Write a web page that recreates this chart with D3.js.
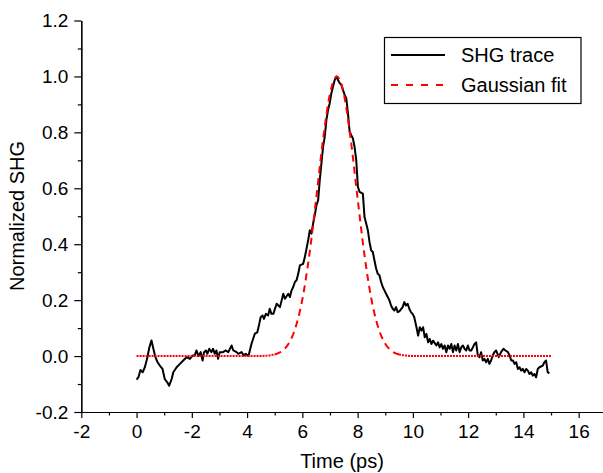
<!DOCTYPE html>
<html>
<head>
<meta charset="utf-8">
<script src="https://cdn.jsdelivr.net/npm/d3@7"></script>
<style>
  body { margin: 0; background: #fff; }
  svg { display: block; font-family: "Liberation Sans", Arial, sans-serif; }
  .axis path, .axis line { stroke: #000; stroke-width: 1.2; }
  .axis text { font-size: 19px; fill: #000; }
</style>
</head>
<body>
<div id="chart"></div>
<script>
// === data ===
const xTickValues = [-2, 0, 2, 4, 6, 8, 10, 12, 14, 16];
const xTickLabels = ["-2", "0", "-2", "4", "6", "8", "10", "12", "14", "16"]; // as printed
const yTickValues = [-0.2, 0, 0.2, 0.4, 0.6, 0.8, 1.0, 1.2];
const yTickLabels = ["-0.2", "0.0", "0.2", "0.4", "0.6", "0.8", "1.0", "1.2"];
const seriesNames = ["SHG trace", "Gaussian fit"];

// SHG trace (time in ps, normalized signal)
const traceT = [
  0.00, 0.07, 0.14, 0.22, 0.30, 0.38, 0.46, 0.54, 0.60, 0.67, 0.75, 0.84, 0.94, 1.02, 1.11, 1.18,
  1.27, 1.33, 1.45, 1.57, 1.69, 1.81, 1.93, 2.03, 2.10, 2.17, 2.24, 2.32, 2.39, 2.44, 2.51, 2.56,
  2.63, 2.71, 2.77, 2.83, 2.89, 2.95, 3.01, 3.13, 3.23, 3.32, 3.44, 3.50, 3.62, 3.68, 3.80, 3.88,
  3.95, 4.05, 4.10, 4.16, 4.22, 4.28, 4.37, 4.44, 4.49, 4.56, 4.61, 4.68, 4.76, 4.82, 4.88, 4.95,
  5.07, 5.19, 5.31, 5.37, 5.49, 5.55, 5.61, 5.67, 5.73, 5.79, 5.85, 5.91, 6.03, 6.09, 6.15, 6.21,
  6.27, 6.33, 6.39, 6.45, 6.51, 6.57, 6.63, 6.69, 6.75, 6.81, 6.87, 6.93, 6.99, 7.05, 7.11, 7.17,
  7.23, 7.29, 7.35, 7.41, 7.47, 7.53, 7.59, 7.65, 7.71, 7.77, 7.83, 7.89, 7.95, 8.01, 8.07, 8.19,
  8.25, 8.31, 8.37, 8.43, 8.49, 8.55, 8.61, 8.67, 8.73, 8.79, 8.85, 8.91, 8.97, 9.03, 9.09, 9.15,
  9.21, 9.27, 9.33, 9.39, 9.45, 9.51, 9.63, 9.69, 9.75, 9.81, 9.87, 9.93, 9.99, 10.05, 10.13, 10.19,
  10.25, 10.31, 10.37, 10.43, 10.49, 10.55, 10.61, 10.67, 10.73, 10.85, 10.91, 10.97, 11.03, 11.09, 11.15, 11.21,
  11.27, 11.33, 11.39, 11.45, 11.51, 11.57, 11.63, 11.69, 11.75, 11.81, 11.87, 11.93, 11.99, 12.05, 12.11, 12.17,
  12.23, 12.29, 12.35, 12.41, 12.47, 12.53, 12.59, 12.65, 12.71, 12.77, 12.83, 12.89, 12.95, 13.01, 13.11, 13.19,
  13.28, 13.35, 13.44, 13.50, 13.56, 13.62, 13.68, 13.74, 13.80, 13.86, 13.92, 13.98, 14.04, 14.10, 14.16, 14.22,
  14.28, 14.34, 14.40, 14.46, 14.52, 14.58, 14.70, 14.76, 14.82, 14.88, 14.94
];
const traceV = [
  -0.084, -0.075, -0.050, -0.058, -0.040, -0.010, 0.030, 0.056, 0.030, 0.000, -0.020, -0.034, -0.046, -0.082, -0.094, -0.106,
  -0.082, -0.058, -0.040, -0.028, -0.016, -0.004, -0.010, 0.002, 0.002, 0.020, 0.000, 0.014, -0.016, 0.014, 0.020, 0.008,
  0.026, 0.014, 0.026, 0.008, 0.020, -0.010, 0.014, 0.014, 0.020, 0.014, 0.038, 0.020, 0.014, 0.008, 0.014, 0.002,
  0.008, 0.000, 0.020, 0.044, 0.062, 0.080, 0.085, 0.115, 0.139, 0.145, 0.133, 0.151, 0.145, 0.169, 0.151, 0.151,
  0.187, 0.175, 0.223, 0.205, 0.223, 0.211, 0.235, 0.247, 0.265, 0.271, 0.294, 0.324, 0.330, 0.354, 0.384, 0.414,
  0.450, 0.438, 0.474, 0.504, 0.539, 0.557, 0.629, 0.689, 0.748, 0.784, 0.844, 0.880, 0.904, 0.940, 0.963, 0.987,
  1.000, 0.987, 0.976, 0.970, 0.952, 0.934, 0.922, 0.869, 0.803, 0.790, 0.778, 0.748, 0.701, 0.605, 0.587, 0.581,
  0.497, 0.474, 0.450, 0.408, 0.378, 0.372, 0.342, 0.313, 0.294, 0.289, 0.265, 0.247, 0.235, 0.223, 0.211, 0.199,
  0.181, 0.169, 0.163, 0.175, 0.157, 0.160, 0.175, 0.193, 0.181, 0.187, 0.169, 0.157, 0.151, 0.139, 0.103, 0.073,
  0.103, 0.091, 0.103, 0.067, 0.079, 0.049, 0.061, 0.043, 0.055, 0.038, 0.049, 0.031, 0.043, 0.026, 0.038, 0.014,
  0.038, 0.026, 0.043, 0.014, 0.038, 0.020, 0.043, 0.014, 0.031, 0.038, 0.026, 0.020, 0.038, 0.020, 0.020, 0.031,
  0.043, 0.049, 0.002, -0.004, 0.014, -0.016, -0.010, -0.022, -0.010, -0.028, -0.016, 0.002, 0.014, 0.020, -0.004, 0.014,
  0.026, 0.020, 0.014, 0.002, -0.016, -0.016, -0.028, -0.022, -0.046, -0.040, -0.052, -0.046, -0.058, -0.046, -0.052, -0.064,
  -0.058, -0.070, -0.064, -0.076, -0.046, -0.040, -0.034, -0.022, -0.016, -0.058, -0.062
];

// Gaussian fit
const fitT = [0.0, 2.0, 4.0, 4.5, 4.75, 5.0, 5.25, 5.5, 5.75, 6.0, 6.25, 6.5, 6.75, 7.0, 7.25,
  7.5, 7.75, 8.0, 8.25, 8.5, 8.75, 9.0, 9.25, 9.5, 9.75, 10.0, 10.5, 12.5, 15.0];
const fitV = [0.0, 0.0, 0.0, 0.0004, 0.0017, 0.0057, 0.017, 0.044, 0.101, 0.203, 0.360, 0.563, 0.775, 0.938, 1.0,
  0.938, 0.775, 0.563, 0.360, 0.203, 0.101, 0.044, 0.017, 0.0057, 0.0017, 0.0004, 0.0, 0.0, 0.0];

// === layout ===
const W = 603, H = 473;
const x = d3.scaleLinear().domain([-2, 17]).range([81.3, 606.3]);
const y = d3.scaleLinear().domain([-0.2, 1.2]).range([412, 20.5]);

const svg = d3.select("#chart").append("svg").attr("width", W).attr("height", H);

// axes (left and bottom only, ticks outward)
const xMinor = d3.range(-1, 17, 2);
const yMinor = d3.range(-0.1, 1.2, 0.2);

svg.append("g").attr("class", "axis")
  .attr("transform", `translate(0,${y(-0.2)})`)
  .call(d3.axisBottom(x).tickValues(xMinor).tickSize(3.5).tickSizeOuter(0).tickFormat(""));
svg.append("g").attr("class", "axis")
  .attr("transform", `translate(0,${y(-0.2)})`)
  .call(d3.axisBottom(x).tickValues(xTickValues).tickSize(6).tickSizeOuter(0).tickPadding(7)
    .tickFormat((d, i) => xTickLabels[i]));

svg.append("g").attr("class", "axis")
  .attr("transform", `translate(${x(-2)},0)`)
  .call(d3.axisLeft(y).tickValues(yMinor).tickSize(3.5).tickSizeOuter(0).tickFormat(""));
svg.append("g").attr("class", "axis")
  .attr("transform", `translate(${x(-2)},0)`)
  .call(d3.axisLeft(y).tickValues(yTickValues).tickSize(7).tickSizeOuter(0).tickPadding(6)
    .tickFormat((d, i) => yTickLabels[i]));

// axis titles
svg.append("text")
  .attr("x", 342).attr("y", 468)
  .attr("text-anchor", "middle").attr("font-size", 20)
  .text("Time (ps)");
svg.append("text")
  .attr("transform", `translate(24,216) rotate(-90)`)
  .attr("text-anchor", "middle").attr("font-size", 20)
  .text("Normalized SHG");

// curves
const trace = traceT.map((t, i) => [t, traceV[i]]);
const fit = fitT.map((t, i) => [t, fitV[i]]);

const line = d3.line().x(d => x(d[0])).y(d => y(d[1]));
const smooth = d3.line().x(d => x(d[0])).y(d => y(d[1])).curve(d3.curveMonotoneX);

// flat parts of the fit look dotted, the steep part dashed
const fitLeft = fit.filter(d => d[0] <= 5.0);
const fitMid = fit.filter(d => d[0] >= 5.0 && d[0] <= 9.5);
const fitRight = fit.filter(d => d[0] >= 9.5);

svg.append("path").datum(trace)
  .attr("fill", "none").attr("stroke", "#000").attr("stroke-width", 2)
  .attr("stroke-linejoin", "round")
  .attr("d", line);

[fitLeft, fitRight].forEach(seg => {
  svg.append("path").datum(seg)
    .attr("fill", "none").attr("stroke", "#ff0000").attr("stroke-width", 2)
    .attr("stroke-dasharray", "2,1")
    .attr("d", smooth);
});
svg.append("path").datum(fitMid)
  .attr("fill", "none").attr("stroke", "#ff0000").attr("stroke-width", 2)
  .attr("stroke-dasharray", "7,5")
  .attr("d", smooth);

// legend
const lg = svg.append("g");
lg.append("rect")
  .attr("x", 384.5).attr("y", 37.5).attr("width", 196.5).attr("height", 66)
  .attr("fill", "#fff").attr("stroke", "#000").attr("stroke-width", 1.2);
const rows = [
  { name: seriesNames[0], color: "#000", dash: null, yy: 55 },
  { name: seriesNames[1], color: "#ff0000", dash: "7,8", yy: 85 }
];
rows.forEach(r => {
  lg.append("line")
    .attr("x1", 391).attr("x2", 445).attr("y1", r.yy).attr("y2", r.yy)
    .attr("stroke", r.color).attr("stroke-width", 2)
    .attr("stroke-dasharray", r.dash);
  lg.append("text")
    .attr("x", 461).attr("y", r.yy).attr("dy", "0.36em")
    .attr("font-size", 20)
    .text(r.name);
});
</script>
</body>
</html>
